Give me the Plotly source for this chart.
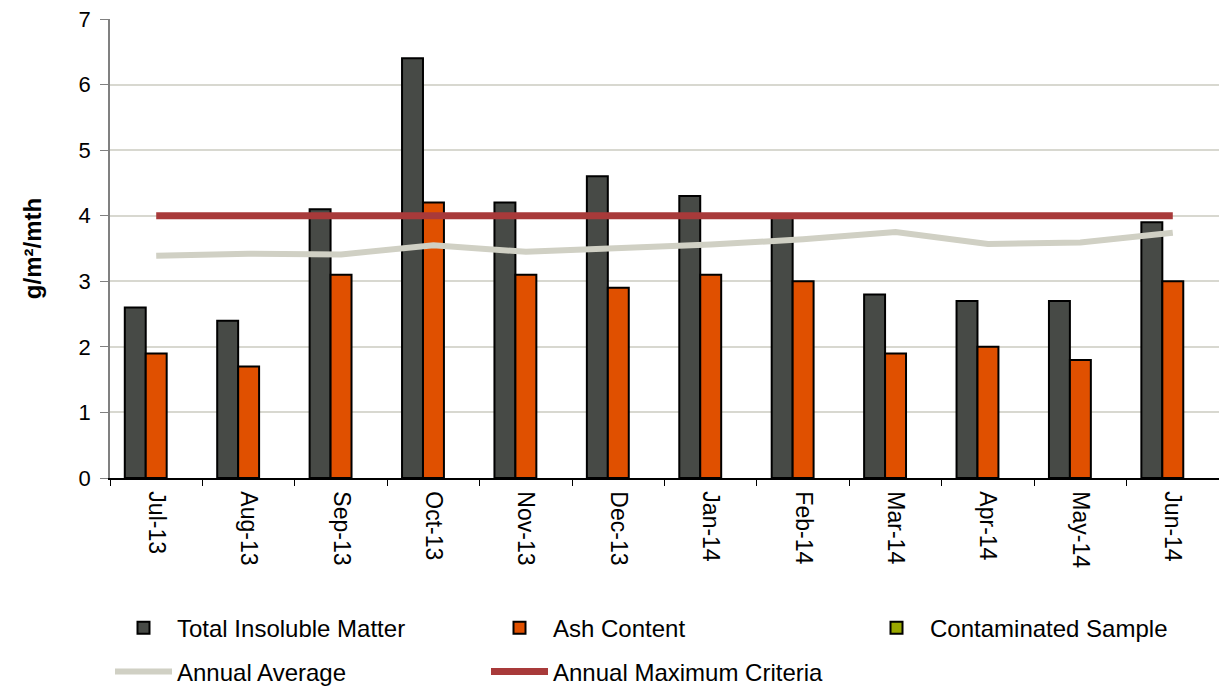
import plotly.graph_objects as go

months = ["Jul-13", "Aug-13", "Sep-13", "Oct-13", "Nov-13", "Dec-13",
          "Jan-14", "Feb-14", "Mar-14", "Apr-14", "May-14", "Jun-14"]
total_insoluble = [2.6, 2.4, 4.1, 6.4, 4.2, 4.6, 4.3, 4.0, 2.8, 2.7, 2.7, 3.9]
ash_content = [1.9, 1.7, 3.1, 4.2, 3.1, 2.9, 3.1, 3.0, 1.9, 2.0, 1.8, 3.0]
contaminated = [None] * 12
annual_average = [3.39, 3.42, 3.41, 3.55, 3.45, 3.50, 3.56, 3.64, 3.75, 3.57, 3.59, 3.74]
annual_max = [4] * 12

FONT = "Liberation Sans, Arial, sans-serif"

fig = go.Figure()
fig.add_trace(go.Bar(x=months, y=total_insoluble, name="Total Insoluble Matter",
                     marker=dict(color="#474A46", line=dict(color="#000000", width=2)),
                     legend="legend"))
fig.add_trace(go.Bar(x=months, y=ash_content, name="Ash Content",
                     marker=dict(color="#E05000", line=dict(color="#000000", width=2)),
                     legend="legend"))
fig.add_trace(go.Bar(x=months, y=contaminated, name="Contaminated Sample",
                     marker=dict(color="#9AA800", line=dict(color="#000000", width=2)),
                     legend="legend3"))
fig.add_trace(go.Scatter(x=months, y=annual_average, name="Annual Average", mode="lines",
                         line=dict(color="#D0D0C4", width=6), legend="legend2"))
fig.add_trace(go.Scatter(x=months, y=annual_max, name="Annual Maximum Criteria", mode="lines",
                         line=dict(color="#A83A3A", width=7), legend="legend2"))

leg_common = dict(orientation="h", xanchor="left", yanchor="middle",
                  entrywidth=304, entrywidthmode="pixels", traceorder="normal",
                  itemwidth=57,
                  font=dict(family=FONT, size=24, color="#000000"),
                  bgcolor="rgba(0,0,0,0)")

fig.update_layout(
    width=1219, height=686,
    margin=dict(l=110, r=0, t=19, b=208, autoexpand=False),
    paper_bgcolor="white", plot_bgcolor="white",
    font=dict(family=FONT, size=22, color="#000000"),
    barmode="group", bargap=0.32, bargroupgap=0,
    showlegend=True,
    legend=dict(x=0.0, y=-0.327, **leg_common),
    legend2=dict(x=0.0, y=-0.4227, **leg_common),
    legend3=dict(x=0.6790, y=-0.327, **leg_common),
)
fig.update_xaxes(type="category", tickangle=90, showgrid=False,
                 showline=True, linecolor="#000000", linewidth=1.5,
                 ticks="outside", tickson="boundaries", ticklen=6, tickcolor="#000000",
                 ticklabelstandoff=7,
                 tickfont=dict(family=FONT, size=23))
fig.update_yaxes(range=[0, 7], dtick=1, showgrid=True, gridcolor="#D8D8D0", gridwidth=1.5,
                 showline=True, linecolor="#808080", linewidth=1.5,
                 ticks="outside", ticklen=8, tickcolor="#808080",
                 ticklabelstandoff=5,
                 tickfont=dict(family=FONT, size=22), zeroline=False,
                 title=dict(text="<b>g/m²/mth</b>", font=dict(family=FONT, size=24), standoff=30))

fig.write_html("out.html")
